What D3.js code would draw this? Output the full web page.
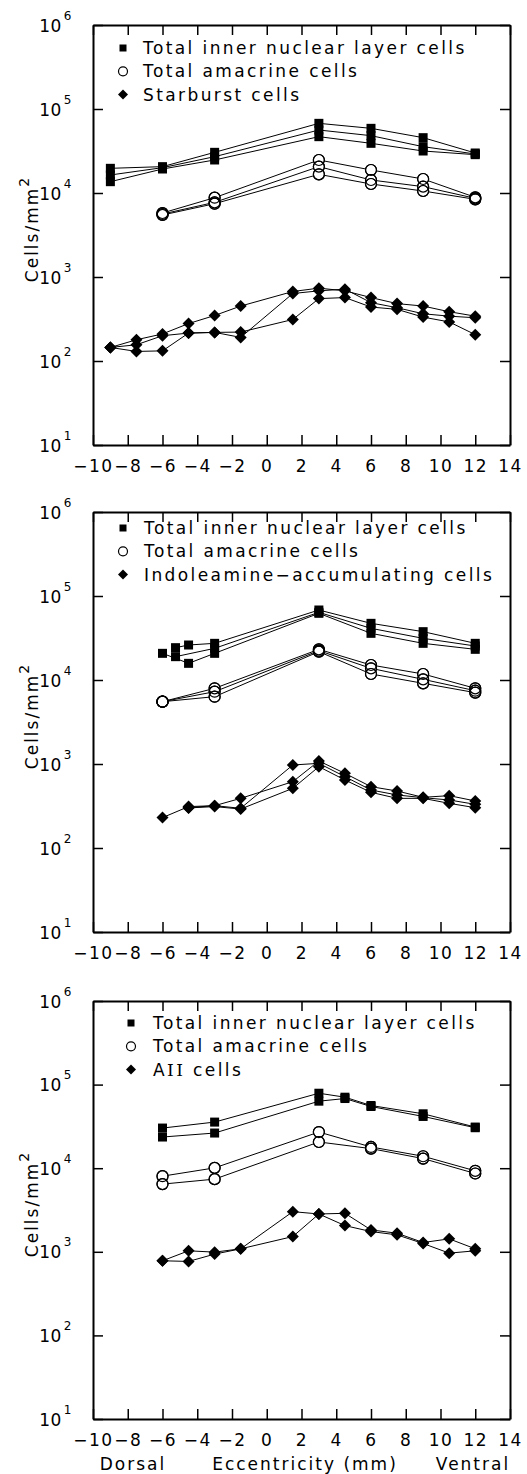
<!DOCTYPE html>
<html>
<head>
<meta charset="utf-8">
<script src="https://cdn.jsdelivr.net/npm/d3@7"></script>
<style>
  body { margin: 0; background: #fff; }
  svg { display: block; font-family: "DejaVu Sans", sans-serif; }
</style>
</head>
<body>
<svg id="chart" width="527" height="1474"></svg>
<script>
// axis ticks
const xTicks = [-10, -8, -6, -4, -2, 0, 2, 4, 6, 8, 10, 12, 14];
const yTicks = [1e1, 1e2, 1e3, 1e4, 1e5, 1e6];

// top panel: starburst
const inlX1 = [-9, -6, -3, 3, 6, 9, 12];
const inl1 = [
  [19670, 20590, 30490, 67500, 58860, 45570, 29940],
  [16380, 20030, 27070, 56230, 48140, 35610, 29130],
  [13640, 19310, 24720, 46840, 39030, 31620, 28600]
];
const amaX1 = [-6, -3, 3, 6, 9, 12];
const ama1 = [
  [5780, 8800, 24720, 18790, 14680, 8880],
  [5620, 7740, 20590, 14290, 11900, 8640],
  [5470, 7460, 16680, 12800, 10560, 8410]
];
const sbX1 = [-9, -7.5, -6, -4.5, -3, -1.5, 1.5, 3, 4.5, 6, 7.5, 9, 10.5, 12];
const sb1 = [
  [145, 179, 210, 279, 348, 451, 672, 737, 684, 569, 482, 451, 386, 342],
  [145, 156, 200, 215, 219, 191, 636, 684, 717, 495, 431, 365, 342, 327],
  [145, 130, 132, 215, 219, 221, 312, 553, 569, 439, 412, 333, 292, 206]
];

// middle panel: indoleamine-accumulating
const inlX2 = [-6, -5.25, -4.5, -3, 3, 6, 9, 12];
const inl2 = [
  [20770, null, 15790, 20770, 62190, 35940, 27320, 23180],
  [null, 24260, 26100, 27320, 68130, 47270, 37620, 27320],
  [null, 18960, null, 23820, 63900, 41220, 31330, 25390]
];
const amaX2 = [-6, -3, 3, 6, 9, 12];
const ama2 = [
  [5520, 7960, 23180, 15090, 11790, 7960],
  [5520, 7260, 22350, 13770, 10180, 7460],
  [5520, 6330, 21750, 11790, 9130, 7070]
];
const iaX2 = [-6, -4.5, -3, -1.5, 1.5, 3, 4.5, 6, 7.5, 9, 10.5, 12];
const ia2 = [
  [230, 311, 319, 390, 616, 1086, 774, 537, 477, 401, 420, 363],
  [null, 302, 319, 297, 973, 1018, 707, 490, 428, 397, 373, 331],
  [null, 300, 311, 291, 513, 929, 645, 460, 390, 390, 340, 302]
];

// bottom panel: AII
const inlX3 = [-6, -3, 3, 4.5, 6, 9, 12];
const inl3 = [
  [30210, 35610, 78850, 70680, 56230, 44750, 31050],
  [23600, 26340, 63350, 68130, 54710, 41590, 30490]
];
const amaX3 = [-6, -3, 3, 6, 9, 12];
const ama3 = [
  [8030, 10090, 27070, 17950, 13900, 9300],
  [6450, 7400, 20590, 17150, 13030, 8640]
];
const aiiX3 = [-6, -4.5, -3, -1.5, 1.5, 3, 4.5, 6, 7.5, 9, 10.5, 12];
const aii3 = [
  [781, 1028, 991, 1086, 3021, 2834, 2886, 1828, 1668, 1291, 1428, 1086],
  [781, 767, 938, 1086, 1522, 2834, 2058, 1746, 1594, 1256, 964, 1028]
];

const legendNames = ['Total inner nuclear layer cells', 'Total amacrine cells'];
const thirdNames = ['Starburst cells', 'Indoleamine\u2212accumulating cells', 'AII cells'];

const panels = [
  { top: 25, h: 420, legY: 48, legX: 123, textX: 143,
    series: [[inlX1, inl1, 'square'], [amaX1, ama1, 'circle'], [sbX1, sb1, 'diamond']] },
  { top: 512, h: 420, legY: 528, legX: 123, textX: 144,
    series: [[inlX2, inl2, 'square'], [amaX2, ama2, 'circle'], [iaX2, ia2, 'diamond']] },
  { top: 1001, h: 418, legY: 1023, legX: 131, textX: 153,
    series: [[inlX3, inl3, 'square'], [amaX3, ama3, 'circle'], [aiiX3, aii3, 'diamond']] }
];

const svg = d3.select('#chart');
const x = d3.scaleLinear().domain([-10, 14]).range([93, 510]);

function marker(g, type, cx, cy, s) {
  if (type === 'square') {
    g.append('rect').attr('x', cx - s / 2).attr('y', cy - s / 2)
      .attr('width', s).attr('height', s).attr('fill', '#000');
  } else if (type === 'circle') {
    g.append('circle').attr('cx', cx).attr('cy', cy).attr('r', s / 2)
      .attr('fill', '#fff').attr('stroke', '#000').attr('stroke-width', 1.2);
  } else {
    const r = s / 2 + 1;
    g.append('path')
      .attr('d', `M${cx},${cy - r}L${cx + r},${cy}L${cx},${cy + r}L${cx - r},${cy}Z`)
      .attr('fill', '#000');
  }
}

panels.forEach((p, pi) => {
  const y = d3.scaleLog().domain([10, 1e6]).range([p.top + p.h, p.top]);
  const g = svg.append('g');

  // axes (ticks point inward)
  const bottom = g.append('g').attr('transform', `translate(0,${p.top + p.h})`)
    .call(d3.axisBottom(x).tickValues(xTicks).tickSize(-10).tickSizeOuter(0).tickPadding(15));
  g.append('g').attr('transform', `translate(0,${p.top})`)
    .call(d3.axisTop(x).tickValues(xTicks).tickSize(-10).tickSizeOuter(0).tickFormat(''));
  const left = g.append('g').attr('transform', `translate(${x(-10)},0)`)
    .call(d3.axisLeft(y).tickValues(yTicks).tickSize(-10).tickSizeOuter(0).tickPadding(21)
      .tickFormat(() => '10'));
  g.append('g').attr('transform', `translate(${x(14)},0)`)
    .call(d3.axisRight(y).tickValues(yTicks).tickSize(-10).tickSizeOuter(0).tickFormat(''));

  g.selectAll('.domain').attr('stroke-width', 2);
  g.selectAll('.tick line').attr('stroke-width', 1.5);
  bottom.selectAll('text').attr('font-size', 17).attr('letter-spacing', 1.5)
    .attr('font-family', '"DejaVu Sans", sans-serif');
  left.selectAll('.tick text')
    .attr('font-size', 17).attr('dy', '0.36em').attr('letter-spacing', 0.5)
    .attr('font-family', '"DejaVu Sans", sans-serif')
    .append('tspan').attr('dy', -12).attr('dx', 2).attr('font-size', 12)
    .text(d => Math.round(Math.log10(d)));

  // y title
  g.append('text')
    .attr('transform', `translate(38,${p.top + p.h / 2 - 6}) rotate(-90)`)
    .attr('text-anchor', 'middle').attr('font-size', 17).attr('letter-spacing', 2)
    .text('Cells/mm')
    .append('tspan').attr('dy', -9).attr('font-size', 14).text('2');

  // data
  p.series.forEach(([xs, rows, type]) => {
    rows.forEach(row => {
      const pts = xs.map((e, i) => [e, row[i]]).filter(d => d[1] != null);
      const line = d3.line().x(d => x(d[0])).y(d => y(d[1]));
      g.append('path').attr('d', line(pts)).attr('fill', 'none')
        .attr('stroke', '#000').attr('stroke-width', 1);
    });
  });
  p.series.forEach(([xs, rows, type]) => {
    const size = type === 'square' ? 9 : type === 'circle' ? 11 : 10;
    rows.forEach(row => {
      xs.forEach((e, i) => {
        if (row[i] != null) marker(g, type, x(e), y(row[i]), size);
      });
    });
    if (type === 'circle') {
      // redraw outlines so overlapping rings stay visible
      rows.forEach(row => {
        xs.forEach((e, i) => {
          if (row[i] == null) return;
          g.append('circle').attr('cx', x(e)).attr('cy', y(row[i])).attr('r', 5.5)
            .attr('fill', 'none').attr('stroke', '#000').attr('stroke-width', 1.2);
        });
      });
    }
  });

  // legend
  const names = [legendNames[0], legendNames[1], thirdNames[pi]];
  const types = ['square', 'circle', 'diamond'];
  const legendSizes = [7, 9, 8];
  names.forEach((n, i) => {
    const ly = p.legY + i * 23.3;
    marker(g, types[i], p.legX, ly, legendSizes[i]);
    const t = g.append('text').attr('x', p.textX).attr('y', ly + 6)
      .attr('font-size', 17).attr('letter-spacing', 2.4);
    if (n.startsWith('AII')) {
      // the roman numeral is set with serifs in the original
      t.append('tspan').text('A');
      t.append('tspan').attr('font-family', '"DejaVu Serif", serif').text('II');
      t.append('tspan').text(' cells');
    } else {
      t.text(n);
    }
  });
});

// x-axis captions under the last panel
const caps = [['Dorsal', 133], ['Eccentricity (mm)', 305], ['Ventral', 473]];
caps.forEach(([t, cx]) => {
  svg.append('text').attr('x', cx).attr('y', 1470).attr('text-anchor', 'middle')
    .attr('font-size', 17).attr('letter-spacing', 2).text(t);
});
</script>
</body>
</html>
